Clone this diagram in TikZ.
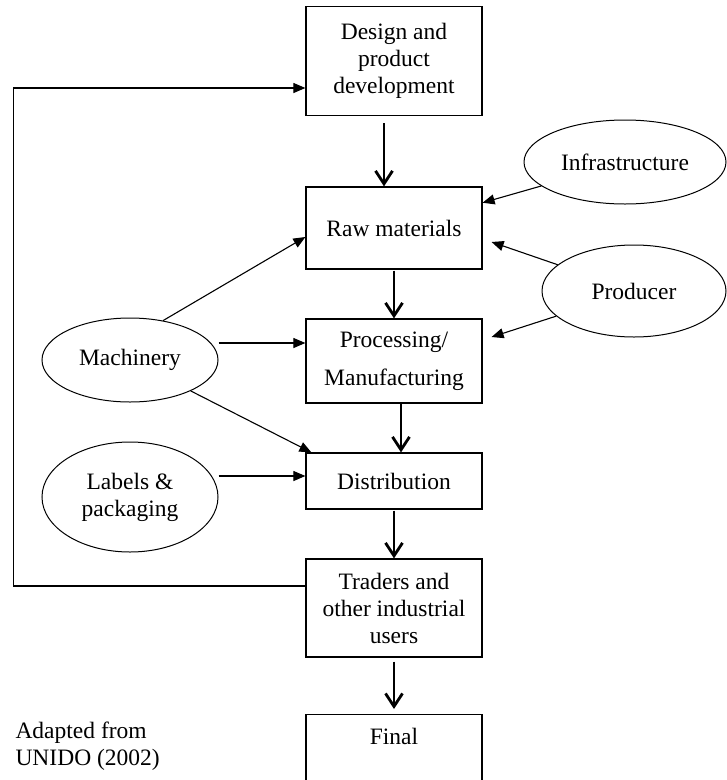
\documentclass[tikz,border=0pt]{standalone}
\usepackage{fontspec}
\setmainfont{Liberation Serif}
\usetikzlibrary{arrows.meta,shapes.geometric}
\begin{document}
\begin{tikzpicture}[x=1pt,y=-1pt,
  font=\fontsize{23.5}{27}\selectfont,
  stage/.style={draw,line width=1.2pt,minimum width=176pt,align=center,inner sep=3pt},
  factor/.style={draw,ellipse,line width=1pt,align=center,inner sep=0pt},
  flow/.style={line width=2.8pt,-{Straight Barb[length=13pt,width=17pt]}},
  feed/.style={line width=1.1pt,-{Triangle[length=12pt,width=10pt]}}]
%definitions
\clip (0,0) rectangle (727,780);

%main chain
\node[stage,minimum height=109pt] (design) at (394,61) {Design and\\product\\development};
\node[stage,minimum height=82pt] (raw) at (394,228) {Raw materials};
\node[stage,minimum height=84pt] (proc) at (394,361) {Processing/\\[11pt]Manufacturing};
\node[stage,minimum height=56pt] (dist) at (394,481) {Distribution};
\node[stage,minimum height=98pt] (traders) at (394,608) {Traders and\\other industrial\\users};
\node[stage,anchor=north,minimum height=95pt,text height=27pt,text depth=62pt] (final) at (394,714) {Final};

%inputs
\node[factor,minimum width=202pt,minimum height=84pt] (infra) at (625,162) {Infrastructure};
\node[factor,minimum width=184pt,minimum height=92pt] (producer) at (634,291) {Producer};
\node[factor,minimum width=176pt,minimum height=84pt] (machinery) at (130,360) {Machinery};
\node[factor,minimum width=176pt,minimum height=110pt] (labels) at (130,497) {Labels \&\\packaging};

\node[anchor=west,align=left] (source) at (12,746) {Adapted from\\UNIDO (2002)};

\draw[flow,shorten <=7pt] ([xshift=-10pt]design.south) -- ([xshift=-10pt]raw.north);
\draw[flow,shorten <=1pt] (raw) -- (proc);
\draw[flow] ([xshift=7pt]proc.south) -- ([xshift=7pt]dist.north);
\draw[flow,shorten <=1pt] (dist) -- (traders);
\draw[flow,shorten <=4pt,shorten >=5pt] (traders) -- (final);

\draw[feed] (infra) -- (raw);
\draw[feed] (producer) -- ([shift={(9,14)}]raw.east);
\draw[feed] (producer) -- ([shift={(9,-24)}]proc.east);
\draw[feed] (machinery.50) -- ([shift={(0,9)}]raw.west);
\draw[feed] ([yshift=18pt]proc.west -| machinery.east) -- ([yshift=18pt]proc.west);
\draw[feed] (machinery) -- ([xshift=6pt]dist.north west);
\draw[feed] ([yshift=5pt]dist.west -| labels.east) -- ([yshift=5pt]dist.west);
\draw[feed] ([yshift=22pt]traders.west) -- ++(-292,0) |- ([yshift=-27pt]design.west);
\end{tikzpicture}
\end{document}
